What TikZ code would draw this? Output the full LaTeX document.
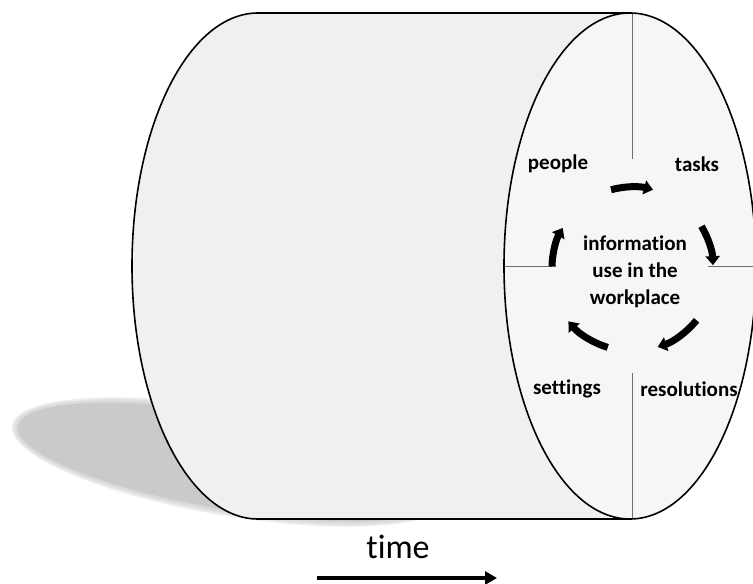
\documentclass[tikz,border=0pt]{standalone}
\usepackage{fontspec}
\setmainfont{Carlito}[Ligatures={NoCommon,NoContextual}]
\usepackage{tikz}
\usetikzlibrary{
    arrows.meta, positioning, calc
}
\definecolor{colBody}{RGB}{240, 240, 240}
\definecolor{colFace}{RGB}{246, 246, 246}
\definecolor{colShadow}{RGB}{202, 202, 202}
\definecolor{colRule}{RGB}{110, 110, 110}
\definecolor{colGhost}{RGB}{250, 250, 250}

\begin{document}
\begin{tikzpicture}[x=1pt, y=1pt,
    every node/.style={font=\fontsize{21}{27}\selectfont\bfseries, align=center, inner sep=0pt},
    outline/.style={draw=black, line width=1.6pt},
    divider/.style={draw=colRule, line width=0.8pt},
    cyclearrow/.style={line width=7pt, -{Triangle[length=9pt, width=14pt]}}
]
    \useasboundingbox (0,0) rectangle (753,584);

    % --- Schatten ---
    \foreach \g in {4,2,0} {
        \fill[colShadow, opacity=0.35, rotate around={-9.5:(231,122)}] (231,122) ellipse [x radius=218+\g, y radius=50+\g];
    }
    \fill[colShadow, rotate around={-9.5:(231,122)}] (231,122) ellipse [x radius=216, y radius=48];

    % --- Zylinder-Koerper ---
    \fill[colBody] (258,65) -- (630,65) -- (630,571) -- (258,571)
        arc[start angle=90, end angle=270, x radius=126, y radius=253] -- cycle;
    \draw[outline] (630,571) -- (258,571)
        arc[start angle=90, end angle=270, x radius=126, y radius=253] -- (630,65);

    % --- Stirnflaeche ---
    \draw[outline, fill=colFace] (630,318) ellipse [x radius=126, y radius=253];
    \begin{scope}
        \clip (630,318) ellipse [x radius=125, y radius=252];
        \draw[divider] (632,600) -- (632,425);
        \draw[divider] (632,211) -- (632,0);
        \draw[divider] (490,318) -- (552,318);
        \draw[divider] (708,318) -- (770,318);
    \end{scope}

    % --- Beschriftung ---
    \coordinate (hub) at (632,316);
    \node (info) at (635,312) {information\\use in the\\workplace};
    \node (people) at (558,420) {people};
    \node (tasks) at (697,420) {tasks};
    \node (settings) at (567,195) {settings};
    \node (resolutions) at (689,195) {resolutions};
    \node[text=colGhost, font=\fontsize{26}{30}\selectfont] (ghost) at (632,228) {at};

    % Kreislauf-Pfeile
    \draw[cyclearrow] ([shift={(105:81)}]hub) arc[start angle=105, end angle=75, radius=81];
    \draw[cyclearrow] ([shift={(31:81)}]hub) arc[start angle=31, end angle=2, radius=81];
    \draw[cyclearrow] ([shift={(-39:83)}]hub) arc[start angle=-39, end angle=-72, radius=83];
    \draw[cyclearrow] ([shift={(-107:83)}]hub) arc[start angle=-107, end angle=-140, radius=83];
    \draw[cyclearrow] ([shift={(179:80)}]hub) arc[start angle=179, end angle=150, radius=80];

    % --- Zeitachse ---
    \node[font=\fontsize{34}{40}\selectfont] (time) at (398,37) {time};
    \coordinate (tstart) at (317,6);
    \coordinate (tend) at (497,6);
    \draw[line width=3.5pt, -{Triangle[length=12pt, width=13pt]}] (tstart) -- (tend);

\end{tikzpicture}
\end{document}
